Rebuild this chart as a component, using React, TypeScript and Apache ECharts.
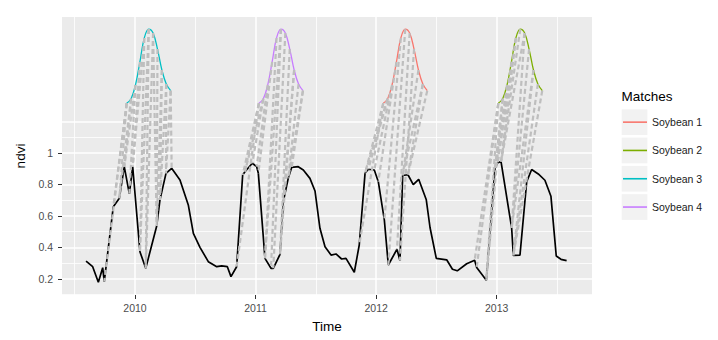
import React, { useEffect, useRef } from "react";
import * as echarts from "echarts";

// ---- time series (black line) ----
const TS_TIME = [
  2009.594, 2009.649, 2009.696, 2009.732, 2009.745, 2009.82, 2009.87, 2009.911, 2009.953, 2009.981,
  2010.041, 2010.089, 2010.18, 2010.207, 2010.257, 2010.304, 2010.373, 2010.442, 2010.484, 2010.539,
  2010.608, 2010.678, 2010.719, 2010.766, 2010.796, 2010.843, 2010.893, 2010.912, 2010.973, 2011.009,
  2011.023, 2011.078, 2011.128, 2011.147, 2011.203, 2011.23, 2011.271, 2011.3, 2011.354, 2011.396,
  2011.451, 2011.493, 2011.534, 2011.576, 2011.626, 2011.667, 2011.714, 2011.75, 2011.819, 2011.86,
  2011.908, 2011.935, 2011.985, 2012.018, 2012.068, 2012.101, 2012.173, 2012.198, 2012.22, 2012.264,
  2012.308, 2012.353, 2012.416, 2012.447, 2012.499, 2012.585, 2012.633, 2012.673, 2012.751, 2012.817,
  2012.834, 2012.914, 2012.986, 2013.008, 2013.036, 2013.124, 2013.138, 2013.193, 2013.249, 2013.29,
  2013.345, 2013.4, 2013.45, 2013.494, 2013.533, 2013.58,
];
const TS_NDVI = [
  0.314, 0.278, 0.179, 0.272, 0.183, 0.659, 0.712, 0.913, 0.74, 0.913,
  0.373, 0.268, 0.537, 0.702, 0.871, 0.903, 0.829, 0.67, 0.49, 0.401,
  0.31, 0.278, 0.283, 0.278, 0.215, 0.278, 0.86, 0.881, 0.935, 0.913,
  0.871, 0.331, 0.268, 0.268, 0.357, 0.691, 0.839, 0.909, 0.913, 0.892,
  0.839, 0.759, 0.522, 0.405, 0.352, 0.359, 0.327, 0.331, 0.243, 0.416,
  0.871, 0.897, 0.892, 0.818, 0.575, 0.289, 0.389, 0.316, 0.857, 0.862,
  0.799, 0.833, 0.703, 0.527, 0.331, 0.322, 0.262, 0.252, 0.297, 0.319,
  0.273, 0.192, 0.903, 0.938, 0.945, 0.524, 0.35, 0.351, 0.818, 0.895,
  0.867, 0.827, 0.725, 0.346, 0.325, 0.317,
];

// ---- pattern (shifted up, as drawn) ----
const PATTERN_OFFSET = [0, 0.0365, 0.073, 0.1095, 0.146, 0.1825, 0.219, 0.2555, 0.292, 0.3285, 0.365];
const PATTERN_NDVI = [1.316, 1.345, 1.432, 1.578, 1.73, 1.787, 1.762, 1.66, 1.527, 1.438, 1.396];

// ---- matches ----
const MATCH_NAMES = ["Soybean 1", "Soybean 2", "Soybean 3", "Soybean 4"];
const MATCH_COLORS = ["#F8766D", "#7CAE00", "#00BFC4", "#C77CFF"];
const MATCH_START = [2012.059, 2013.013, 2009.931, 2011.028];

// alignment pairs: [pattern index, time-series index]
const ALIGN_SOY1 = [[0, 49], [0, 50], [1, 50], [1, 51], [2, 52], [3, 53], [4, 54], [5, 55], [6, 56], [7, 57], [8, 58], [9, 58], [9, 59], [10, 59]];
const ALIGN_SOY2 = [[0, 69], [0, 70], [0, 71], [1, 71], [1, 72], [2, 72], [3, 73], [4, 73], [4, 74], [5, 74], [6, 74], [6, 75], [7, 75], [8, 75], [8, 76], [9, 76], [10, 76]];
const ALIGN_SOY3 = [[0, 4], [0, 5], [0, 6], [1, 6], [1, 7], [2, 7], [2, 8], [3, 9], [4, 9], [4, 10], [5, 10], [5, 11], [6, 11], [6, 12], [7, 12], [8, 12], [8, 13], [9, 13], [9, 14], [10, 14], [10, 15]];
const ALIGN_SOY4 = [[0, 25], [0, 26], [0, 27], [1, 27], [1, 28], [2, 29], [3, 30], [4, 31], [5, 31], [5, 32], [6, 33], [7, 34], [8, 34], [8, 35], [9, 36], [10, 36], [10, 37]];
const ALIGNMENTS = [ALIGN_SOY1, ALIGN_SOY2, ALIGN_SOY3, ALIGN_SOY4];

// ---- axes ----
const X_TICKS = [2010, 2011, 2012, 2013];
const X_MINOR = [2009.5, 2010.5, 2011.5, 2012.5, 2013.5];
const Y_TICKS = [0.2, 0.4, 0.6, 0.8, 1];
const Y_MAJOR = [0.2, 0.4, 0.6, 0.8, 1, 1.2];
const Y_MINOR = [0.1, 0.3, 0.5, 0.7, 0.9, 1.1];
const X_MIN = 2009.3945;
const X_MAX = 2013.7905;
const Y_MIN = 0.0984;
const Y_MAX = 1.8635;

const FONT = "'Liberation Sans', Arial, Helvetica, sans-serif";

export default function App() {
  const ref = useRef<HTMLDivElement>(null);

  useEffect(() => {
    if (!ref.current) return;
    const chart = echarts.init(ref.current, undefined, { renderer: "svg" });

    const hiddenAxisBase = {
      type: "value" as const,
      axisLine: { show: false },
      axisLabel: { show: false },
    };

    const patternSeries = MATCH_NAMES.map((name, m) => ({
      name,
      type: "line",
      xAxisIndex: 0,
      yAxisIndex: 0,
      data: PATTERN_OFFSET.map((o, i) => [MATCH_START[m] + o, PATTERN_NDVI[i]]),
      smooth: 0.4,
      showSymbol: false,
      symbol: "none",
      lineStyle: { color: MATCH_COLORS[m], width: 1.3 },
      itemStyle: { color: MATCH_COLORS[m] },
      z: 2,
      silent: true,
    }));

    const dashData: any[] = [];
    ALIGNMENTS.forEach((al, m) => {
      al.forEach(([p, t]) => {
        dashData.push({
          coords: [
            [MATCH_START[m] + PATTERN_OFFSET[p], PATTERN_NDVI[p]],
            [TS_TIME[t], TS_NDVI[t]],
          ],
        });
      });
    });

    const legendTop = 109.3;
    const keySize = 25.7;
    const pitch = 28.3;

    chart.setOption({
      animation: false,
      textStyle: { fontFamily: FONT },
      grid: {
        left: 62,
        top: 17,
        width: 530,
        height: 278,
        show: true,
        backgroundColor: "#EBEBEB",
        borderWidth: 0,
        containLabel: false,
      },
      xAxis: [
        {
          type: "value",
          min: X_MIN,
          max: X_MAX,
          position: "bottom",
          axisLine: { show: false },
          axisTick: {
            show: true,
            length: 4,
            lineStyle: { color: "#333333", width: 1 },
            customValues: X_TICKS,
          },
          axisLabel: {
            customValues: X_TICKS,
            color: "#4D4D4D",
            fontSize: 10.5,
            fontFamily: FONT,
            margin: 7,
            formatter: (v: number) => String(Math.round(v)),
          },
          splitLine: { show: true, lineStyle: { color: "#FFFFFF", width: 1.5 } },
          name: "Time",
          nameLocation: "middle",
          nameGap: 24,
          nameTextStyle: { fontSize: 13.5, color: "#000000", fontFamily: FONT },
        },
        {
          ...hiddenAxisBase,
          min: X_MIN,
          max: X_MAX,
          position: "top",
          axisTick: { show: false, customValues: X_MINOR },
          splitLine: { show: true, lineStyle: { color: "#FFFFFF", width: 0.8 } },
        },
      ],
      yAxis: [
        {
          type: "value",
          min: Y_MIN,
          max: Y_MAX,
          position: "left",
          axisLine: { show: false },
          axisTick: {
            show: true,
            length: 4,
            lineStyle: { color: "#333333", width: 1 },
            customValues: Y_TICKS,
          },
          axisLabel: {
            customValues: Y_TICKS,
            color: "#4D4D4D",
            fontSize: 10.5,
            fontFamily: FONT,
            margin: 9,
            formatter: (v: number) => String(Number(v.toFixed(1))),
          },
          splitLine: { show: false },
          name: "ndvi",
          nameLocation: "middle",
          nameRotate: 90,
          nameGap: 31,
          nameTextStyle: { fontSize: 13.5, color: "#000000", fontFamily: FONT },
        },
        {
          ...hiddenAxisBase,
          min: Y_MIN,
          max: Y_MAX,
          position: "left",
          axisTick: { show: false, customValues: Y_MAJOR },
          splitLine: { show: true, lineStyle: { color: "#FFFFFF", width: 1.5 } },
        },
        {
          ...hiddenAxisBase,
          min: Y_MIN,
          max: Y_MAX,
          position: "right",
          axisTick: { show: false, customValues: Y_MINOR },
          splitLine: { show: true, lineStyle: { color: "#FFFFFF", width: 0.8 } },
        },
      ],
      legend: {
        show: true,
        data: MATCH_NAMES,
        orient: "vertical",
        left: 623,
        top: legendTop + keySize / 2 - pitch / 2,
        itemWidth: 24,
        itemHeight: 1.6,
        itemGap: 0,
        icon: "rect",
        selectedMode: false,
        padding: 0,
        textStyle: { fontSize: 10.5, color: "#1A1A1A", fontFamily: FONT, lineHeight: pitch },
      },
      graphic: [
        {
          type: "text",
          left: 621.5,
          top: 89.5,
          style: { text: "Matches", font: `13.5px ${FONT}`, fill: "#000000" },
          z: 0,
        },
        ...MATCH_NAMES.map((_, i) => ({
          type: "rect",
          shape: { x: 621.7, y: legendTop + i * pitch, width: keySize, height: keySize },
          style: { fill: "#F2F2F2" },
          z: 0,
        })),
      ],
      series: [
        ...patternSeries,
        {
          name: "ts",
          type: "line",
          xAxisIndex: 0,
          yAxisIndex: 0,
          data: TS_TIME.map((t, i) => [t, TS_NDVI[i]]),
          showSymbol: false,
          symbol: "none",
          lineStyle: { color: "#000000", width: 1.7 },
          itemStyle: { color: "#000000" },
          z: 3,
          silent: true,
        },
        {
          name: "alignment",
          type: "lines",
          coordinateSystem: "cartesian2d",
          xAxisIndex: 0,
          yAxisIndex: 0,
          data: dashData,
          lineStyle: { color: "#BEBEBE", width: 2.2, type: [5, 3], opacity: 1, curveness: 0 },
          z: 4,
          silent: true,
        },
      ],
    });

    return () => chart.dispose();
  }, []);

  return (
    <div
      ref={ref}
      style={{ position: "fixed", left: 0, top: 0, width: 718, height: 340, background: "#FFFFFF" }}
    />
  );
}
